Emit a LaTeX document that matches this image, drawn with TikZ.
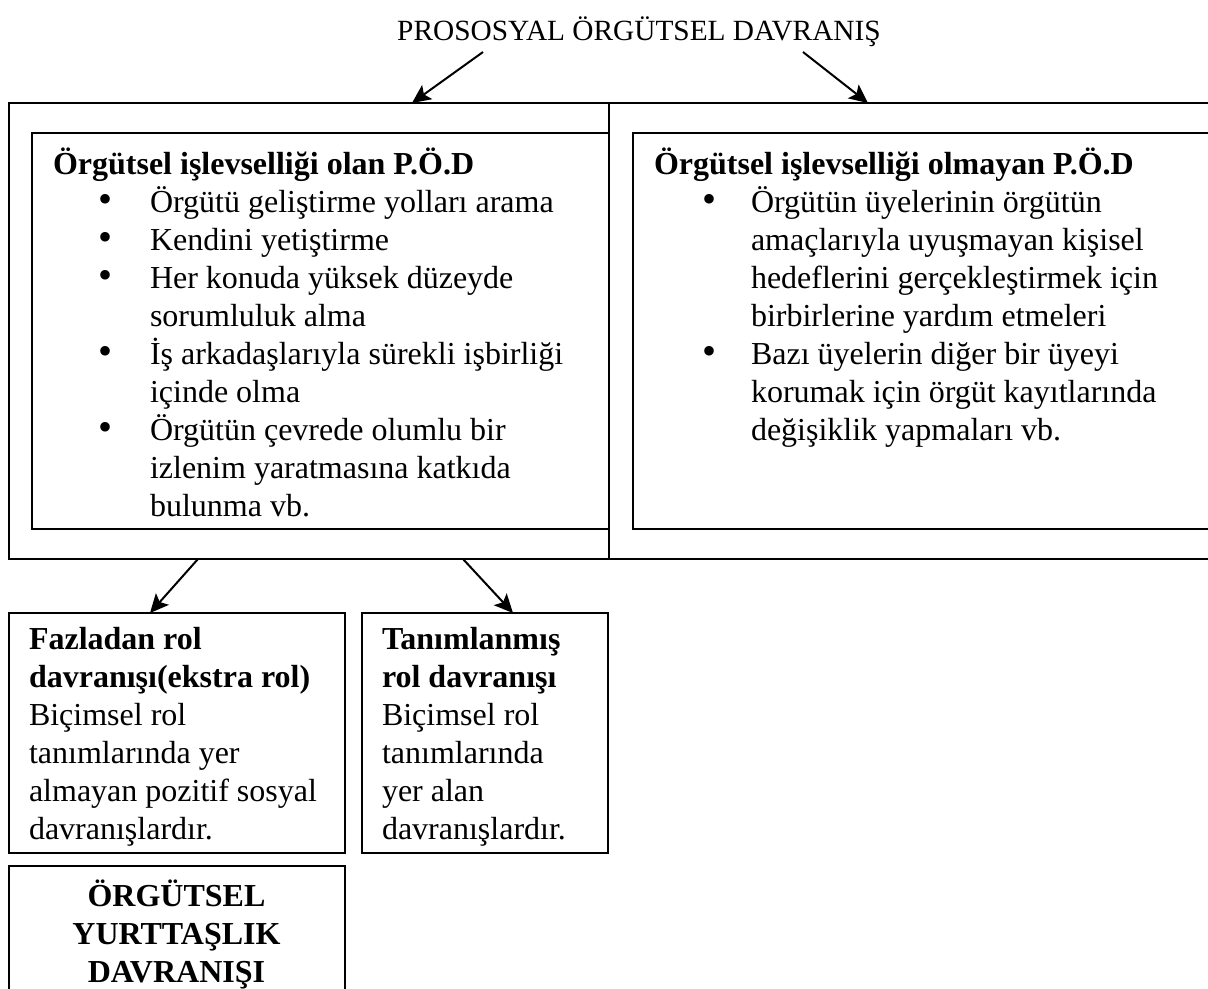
\documentclass[tikz,border=0pt]{standalone}
\usepackage{fontspec}
\setmainfont{Liberation Serif}
\usetikzlibrary{arrows.meta,fit}
\begin{document}
\begin{tikzpicture}[x=0.375pt,y=-0.375pt,
  box/.style={draw, line width=0.75pt, inner sep=0pt, outer sep=0pt},
  txt/.style={inner sep=0pt, outer sep=0pt, anchor=base west, align=left, font=\fontsize{12}{14.25}\selectfont},
  btxt/.style={txt, font=\fontsize{12}{14.25}\selectfont\bfseries},
  ctxt/.style={inner sep=0pt, outer sep=0pt, anchor=base, align=center, font=\fontsize{12}{14.25}\selectfont\bfseries},
  bul/.style={inner sep=0pt, outer sep=0pt, anchor=base, font=\fontsize{15}{14.25}\selectfont},
  arr/.style={line width=0.75pt, -{Stealth[length=7pt,width=6.5pt,inset=1.5pt]}}]
\useasboundingbox (0,0) rectangle (1208,988);
\clip (0,0) rectangle (1208,988);

% header
\node[inner sep=0pt, anchor=base, font=\fontsize{11}{13}\selectfont] (head) at (639,40) {PROSOSYAL ÖRGÜTSEL DAVRANIŞ};

% boxes
\node[box, fit={(8.5,103) (609,559)}] (outerL) {};
\node[box, fit={(609,103) (1240,559)}] (outerR) {};
\node[box, fit={(32,133) (609,529)}] (innerL) {};
\node[box, fit={(633,133) (1240,529)}] (innerR) {};
\node[box, fit={(8.5,613) (345,853)}] (extra) {};
\node[box, fit={(362,613) (608,853)}] (tanim) {};
\node[box, fit={(8.5,866) (345,1020)}] (oyd) {};

% (multi-line nodes are anchored at the baseline of their last line)
% left inner box text
\node[btxt] (tL) at (53,174) {Örgütsel işlevselliği olan P.Ö.D};
\node[bul] (bL1) at (106,212) {•};
\node[txt] (iL1) at (150,212) {Örgütü geliştirme yolları arama};
\node[bul] (bL2) at (106,250) {•};
\node[txt] (iL2) at (150,250) {Kendini yetiştirme};
\node[bul] (bL3) at (106,288) {•};
\node[txt] (iL3) at (150,326) {Her konuda yüksek düzeyde\\sorumluluk alma};
\node[bul] (bL4) at (106,364) {•};
\node[txt] (iL4) at (150,402) {İş arkadaşlarıyla sürekli işbirliği\\içinde olma};
\node[bul] (bL5) at (106,440) {•};
\node[txt] (iL5) at (150,516) {Örgütün çevrede olumlu bir\\izlenim yaratmasına katkıda\\bulunma vb.};

% right inner box text
\node[btxt] (tR) at (654,174) {Örgütsel işlevselliği olmayan P.Ö.D};
\node[bul] (bR1) at (709,212) {•};
\node[txt] (iR1) at (751,326) {Örgütün üyelerinin örgütün\\amaçlarıyla uyuşmayan kişisel\\hedeflerini gerçekleştirmek için\\birbirlerine yardım etmeleri};
\node[bul] (bR2) at (709,364) {•};
\node[txt] (iR2) at (751,440) {Bazı üyelerin diğer bir üyeyi\\korumak için örgüt kayıtlarında\\değişiklik yapmaları vb.};

% bottom boxes text
\node[txt] (eT) at (29,839) {\textbf{Fazladan rol}\\\textbf{davranışı(ekstra rol)}\\Biçimsel rol\\tanımlarında yer\\almayan pozitif sosyal\\davranışlardır.};
\node[txt] (tT) at (382,839) {\textbf{Tanımlanmış}\\\textbf{rol davranışı}\\Biçimsel rol\\tanımlarında\\yer alan\\davranışlardır.};
\node[ctxt] (oT) at (176.5,982) {ÖRGÜTSEL\\YURTTAŞLIK\\DAVRANIŞI};

% arrows
\coordinate (h1) at (483,52);
\coordinate (h2) at (803,52);
\coordinate (e1) at (412,103);
\coordinate (e2) at (868,103);
\coordinate (s3) at (198,559);
\coordinate (s4) at (463,559);
\coordinate (e3) at (150,613);
\coordinate (e4) at (513,613);
\draw[arr] (h1) -- (e1);
\draw[arr] (h2) -- (e2);
\draw[arr] (s3) -- (e3);
\draw[arr] (s4) -- (e4);
\end{tikzpicture}
\end{document}
